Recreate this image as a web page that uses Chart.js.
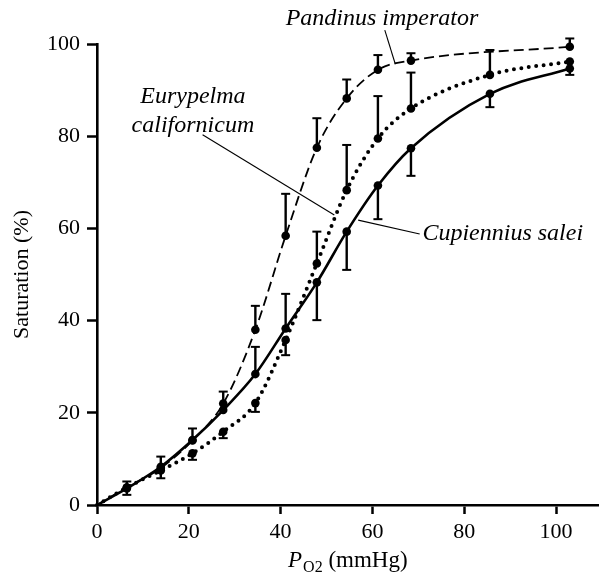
<!DOCTYPE html>
<html>
<head>
<meta charset="utf-8">
<script src="https://cdn.jsdelivr.net/npm/chart.js@4.4.1/dist/chart.umd.min.js"></script>
<style>
  html, body { margin: 0; padding: 0; background: #fff; }
  canvas { display: block; }
</style>
</head>
<body>
<canvas id="chart" width="603" height="582"></canvas>
<script>
// Oxygen partial pressure (mmHg) at which saturation was measured
const pO2 = [0, 6.5, 13.9, 20.8, 27.5, 34.5, 41.1, 47.9, 54.4, 61.2, 68.4, 85.6, 103];

// Cupiennius salei (solid)
const cupSat = [0, 3.6, 8.3, 14.1, 20.6, 28.4, 38.3, 48.3, 59.3, 69.3, 77.4, 89.2, 94.7];
const cupHi  = [null, 5.1, 10.5, null, null, 34.3, 45.8, null, null, null, null, null, null];
const cupLo  = [null, null, null, null, null, null, null, 40.1, 51.0, 62.0, 71.4, 86.3, 93.3];

// Pandinus imperator (dashed) - no measurement at 85.6 mmHg
const panSat = [0, 3.8, 8.0, 14.0, 22.0, 38.0, 58.4, 77.5, 88.2, 94.4, 96.4, null, 99.4];
const panHi  = [null, null, null, 16.6, 24.6, 43.2, 67.5, 83.9, 92.3, 97.6, 98.0, null, 101.2];

// Eurypelma californicum (dotted)
const eurSat = [0, 3.8, 7.5, 11.2, 15.9, 22.1, 35.8, 52.4, 68.3, 79.5, 86.0, 93.3, 96.2];
const eurHi  = [null, null, null, null, null, null, null, 59.3, 78.1, 88.7, 93.8, 98.7, null];
const eurLo  = [null, 2.2, 5.8, 9.8, 14.5, 20.2, 32.5, null, null, null, null, null, null];

const xTicks = [0, 20, 40, 60, 80, 100];
const yTicks = [0, 20, 40, 60, 80, 100];

const SERIF = "'Liberation Serif', 'Times New Roman', serif";

function series(sat, hi, lo) {
  return pO2
    .map((x, i) => ({ x: x, y: sat[i], hi: hi ? hi[i] : null, lo: lo ? lo[i] : null }))
    .filter(p => p.y !== null);
}

// Vertical SE bars with short caps
const errorBars = {
  id: 'errorBars',
  afterDatasetsDraw(chart) {
    const ctx = chart.ctx;
    const y = chart.scales.y;
    ctx.save();
    ctx.strokeStyle = '#000';
    chart.data.datasets.forEach((ds, di) => {
      const meta = chart.getDatasetMeta(di);
      ds.data.forEach((p, i) => {
        const el = meta.data[i];
        [p.hi, p.lo].forEach(v => {
          if (v === null || v === undefined) return;
          const py = y.getPixelForValue(v);
          ctx.lineWidth = 2.4;
          ctx.beginPath();
          ctx.moveTo(el.x, el.y);
          ctx.lineTo(el.x, py);
          ctx.stroke();
          ctx.lineWidth = 2;
          ctx.beginPath();
          ctx.moveTo(el.x - 4.5, py);
          ctx.lineTo(el.x + 4.5, py);
          ctx.stroke();
        });
      });
    });
    ctx.restore();
  }
};

// Species names with leader lines, anchored in data units
const speciesLabels = {
  id: 'speciesLabels',
  afterDraw(chart, args, opts) {
    const ctx = chart.ctx;
    const { x, y } = chart.scales;
    ctx.save();
    ctx.fillStyle = '#000';
    ctx.strokeStyle = '#000';
    ctx.lineWidth = 1.1;
    opts.leaders.forEach(l => {
      ctx.beginPath();
      ctx.moveTo(x.getPixelForValue(l.from[0]), y.getPixelForValue(l.from[1]));
      ctx.lineTo(x.getPixelForValue(l.to[0]), y.getPixelForValue(l.to[1]));
      ctx.stroke();
    });
    ctx.font = 'italic 24px ' + SERIF;
    ctx.textBaseline = 'alphabetic';
    opts.labels.forEach(t => {
      ctx.textAlign = t.align;
      ctx.fillText(t.text, x.getPixelForValue(t.x), y.getPixelForValue(t.y));
    });

    // x-axis title: italic P with subscript O2
    const cx = (chart.chartArea.left + chart.chartArea.right) / 2;
    const base = 567;
    const mainFont = '23px ' + SERIF;
    const italFont = 'italic 23px ' + SERIF;
    const subFont = '16px ' + SERIF;
    ctx.font = italFont; const wP = ctx.measureText('P').width;
    ctx.font = subFont;  const wS = ctx.measureText('O2').width;
    ctx.font = mainFont; const wU = ctx.measureText(' (mmHg)').width;
    let sx = cx - (wP + 1 + wS + wU) / 2;
    ctx.textAlign = 'left';
    ctx.font = italFont; ctx.fillText('P', sx, base); sx += wP + 1;
    ctx.font = subFont;  ctx.fillText('O2', sx, base + 5); sx += wS;
    ctx.font = mainFont; ctx.fillText(' (mmHg)', sx, base);
    ctx.restore();
  }
};

const pointRadius = ctx => (ctx.raw && ctx.raw.x === 0 ? 0 : 4.3);

new Chart(document.getElementById('chart'), {
  type: 'line',
  plugins: [errorBars, speciesLabels],
  data: {
    datasets: [
      {
        label: 'Cupiennius salei',
        data: series(cupSat, cupHi, cupLo),
        borderColor: '#000',
        borderWidth: 2.6,
        pointRadius: pointRadius,
        pointBackgroundColor: '#000',
        pointBorderWidth: 0,
        cubicInterpolationMode: 'monotone',
        clip: false
      },
      {
        label: 'Pandinus imperator',
        data: series(panSat, panHi, null),
        borderColor: '#000',
        borderWidth: 1.8,
        borderDash: [10, 5],
        pointRadius: pointRadius,
        pointBackgroundColor: '#000',
        pointBorderWidth: 0,
        cubicInterpolationMode: 'monotone',
        clip: false
      },
      {
        label: 'Eurypelma californicum',
        data: series(eurSat, eurHi, eurLo),
        borderColor: '#000',
        borderWidth: 4,
        borderDash: [0, 7.5],
        borderCapStyle: 'round',
        pointRadius: pointRadius,
        pointBackgroundColor: '#000',
        pointBorderWidth: 0,
        cubicInterpolationMode: 'monotone',
        clip: false
      }
    ]
  },
  options: {
    responsive: false,
    animation: false,
    devicePixelRatio: 1,
    layout: { padding: { top: 44, right: 1, left: 0, bottom: 0 } },
    plugins: {
      legend: { display: false },
      tooltip: { enabled: false },
      speciesLabels: {
        labels: [
          { text: 'Pandinus imperator', x: 41.1, y: 104.1, align: 'left' },
          { text: 'Eurypelma', x: 20.9, y: 87.1, align: 'center' },
          { text: 'californicum', x: 20.9, y: 81.0, align: 'center' },
          { text: 'Cupiennius salei', x: 70.9, y: 57.5, align: 'left' }
        ],
        leaders: [
          { from: [62.7, 103.0], to: [65.0, 95.6] },
          { from: [23.0, 80.3], to: [51.7, 62.9] },
          { from: [56.9, 61.8], to: [70.3, 58.8] }
        ]
      }
    },
    scales: {
      x: {
        type: 'linear',
        min: 0,
        max: 109.3,
        afterFit(scale) { scale.height = 77; },
        afterBuildTicks(scale) { scale.ticks = xTicks.map(v => ({ value: v })); },
        grid: { drawOnChartArea: false, drawTicks: true, tickLength: 9, tickWidth: 2.5, tickColor: '#000' },
        border: { display: true, color: '#000', width: 2.6 },
        ticks: { color: '#000', padding: 5, maxRotation: 0, font: { family: SERIF, size: 22 } }
      },
      y: {
        type: 'linear',
        min: 0,
        max: 100,
        afterFit(scale) { scale.width = 97; },
        afterBuildTicks(scale) { scale.ticks = yTicks.map(v => ({ value: v })); },
        grid: { drawOnChartArea: false, drawTicks: true, tickLength: 10, tickWidth: 2.5, tickColor: '#000' },
        border: { display: true, color: '#000', width: 2.6 },
        ticks: { color: '#000', padding: 7, font: { family: SERIF, size: 22 } },
        title: {
          display: true,
          text: 'Saturation (%)',
          color: '#000',
          padding: { top: 9, bottom: 0 },
          font: { family: SERIF, size: 22 }
        }
      }
    }
  }
});
</script>
</body>
</html>
